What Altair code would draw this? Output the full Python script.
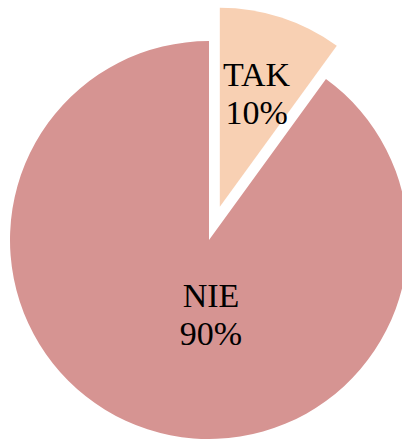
import math
import altair as alt
import pandas as pd

categories = ["TAK", "NIE"]
values = [10, 90]
colors = ["#F8D0B3", "#D69492"]

df = pd.DataFrame({"cat": categories, "value": values})
total = sum(values)
df["start"] = df["value"].cumsum() - df["value"]
df["end"] = df["value"].cumsum()
df["mid"] = (df["start"] + df["end"]) / 2
df["label"] = df["cat"] + "\n" + (df["value"] / total * 100).round().astype(int).astype(str) + "%"

CX, CY, R = 209, 240, 199
EXPLODE = 35
tak_mid_angle = 2 * math.pi * float(df.loc[df.cat == "TAK", "mid"].iloc[0]) / total
TX = CX + EXPLODE * math.sin(tak_mid_angle)
TY = CY - EXPLODE * math.cos(tak_mid_angle)

theta_scale = alt.Scale(domain=[0, total], range=[0, 2 * math.pi])
color_scale = alt.Scale(domain=categories, range=colors)

base = alt.Chart(df)

nie_arc = base.transform_filter(alt.datum.cat == "NIE").mark_arc(radius=R, stroke=None).encode(
    theta=alt.Theta("start:Q", scale=theta_scale),
    theta2="end:Q",
    color=alt.Color("cat:N", scale=color_scale, legend=None),
    x=alt.value(CX), y=alt.value(CY),
)
tak_arc = base.transform_filter(alt.datum.cat == "TAK").mark_arc(radius=R, stroke=None).encode(
    theta=alt.Theta("start:Q", scale=theta_scale),
    theta2="end:Q",
    color=alt.Color("cat:N", scale=color_scale, legend=None),
    x=alt.value(TX), y=alt.value(TY),
)

text_props = dict(font="Liberation Serif", fontSize=34, lineBreak="\n", lineHeight=38,
                  align="center", baseline="middle", color="black")

tak_text = base.transform_filter(alt.datum.cat == "TAK").mark_text(radius=119, dy=-18, **text_props).encode(
    theta=alt.Theta("mid:Q", scale=theta_scale),
    text="label:N",
    x=alt.value(TX), y=alt.value(TY),
)
nie_text = base.transform_filter(alt.datum.cat == "NIE").mark_text(dx=2, dy=57, **text_props).encode(
    text="label:N",
    x=alt.value(CX), y=alt.value(CY),
)

chart = alt.layer(nie_arc, tak_arc, nie_text, tak_text).properties(
    width=402, height=439, padding=0, autosize=alt.AutoSizeParams(type="none")
).configure_view(stroke=None)

chart.save("out.html", embed_options={"renderer": "svg", "actions": False})
